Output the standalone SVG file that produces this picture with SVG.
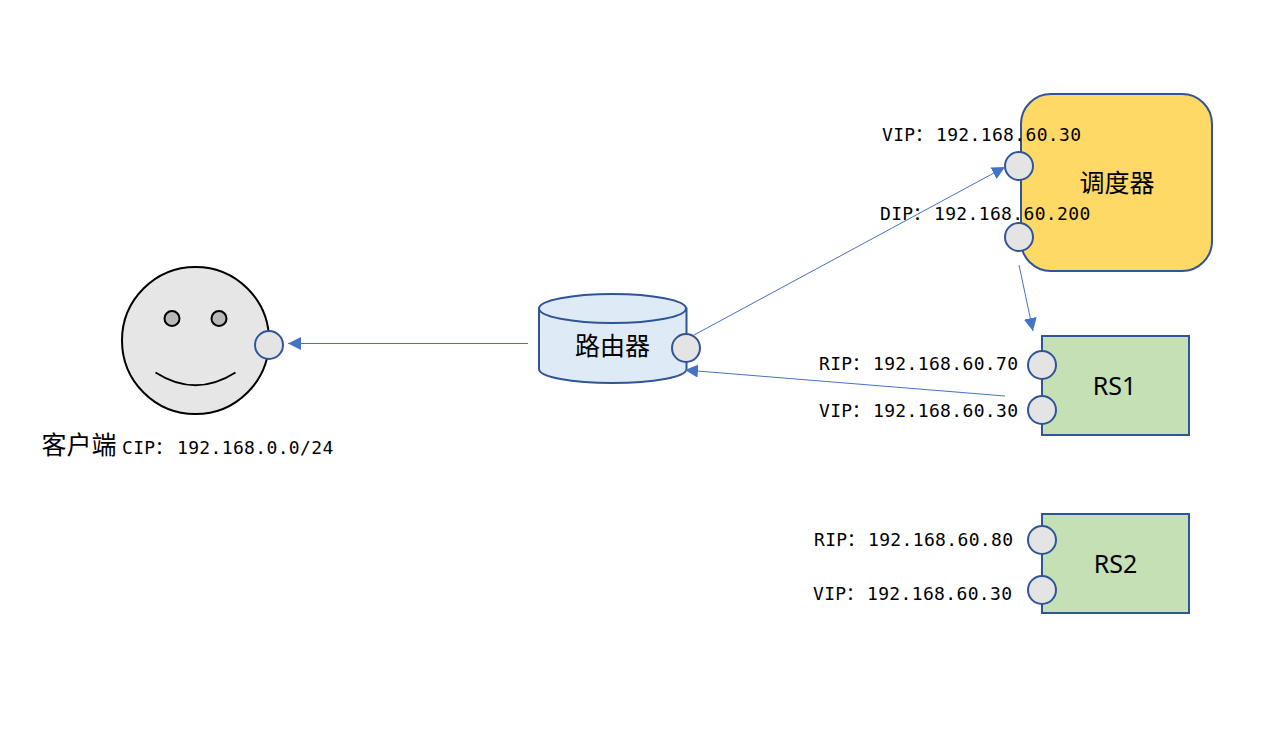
<svg xmlns="http://www.w3.org/2000/svg" width="1261" height="729" viewBox="0 0 1261 729">
<style>
.s{stroke:#2f5597;stroke-width:2}
.port{fill:#e4e4e4;stroke:#2f5597;stroke-width:2}
.ip{font-family:"DejaVu Sans Mono","Noto Sans CJK SC",monospace;font-size:18px;letter-spacing:.35px;fill:#000}
.lbl{font-family:"Noto Sans","Noto Sans CJK SC",sans-serif;font-size:25px;fill:#000;text-anchor:middle}
.c{stroke:#4472c4;stroke-width:1;fill:none;marker-end:url(#a)}
</style>
<defs><marker id="a" markerUnits="userSpaceOnUse" markerWidth="14" markerHeight="13" refX="13" refY="6.500" orient="auto"><path d="M0 0L13 6.500L0 13Z" fill="#4472c4"/></marker></defs>
<rect width="1261" height="729" fill="#fff"/>
<g id="client">
<circle cx="195.500" cy="340.500" r="73.500" fill="#e6e6e6" stroke="#000" stroke-width="2"/>
<circle cx="172" cy="318.500" r="7.500" fill="#b8b8b8" stroke="#000" stroke-width="2"/>
<circle cx="219" cy="318.500" r="7.500" fill="#b8b8b8" stroke="#000" stroke-width="2"/>
<path d="M155.500 372.500Q195.500 398 235.500 372.500" fill="none" stroke="#000" stroke-width="2"/>
<circle class="port" cx="269" cy="345" r="14"/>
<text x="79" y="454" class="lbl">客户端</text>
<text x="122" y="454" class="ip">CIP<tspan x="155">：</tspan><tspan x="177">192.168.0.0/24</tspan></text>
</g>
<g id="router">
<path d="M539 308.500V369C539 377 572 383 612.500 383S686.500 377 686.500 369V308.500Z" fill="#deeaf6" class="s"/>
<ellipse cx="612.500" cy="308.500" rx="73.500" ry="14.500" fill="#deeaf6" class="s"/>
<text x="612.500" y="355" class="lbl">路由器</text>
<circle class="port" cx="686" cy="348" r="14"/>
</g>
<g id="scheduler">
<rect x="1021" y="94" width="191" height="177" rx="30" ry="30" fill="#ffd966" class="s"/>
<text x="1117" y="192" class="lbl">调度器</text>
<circle class="port" cx="1019" cy="166" r="14"/>
<circle class="port" cx="1019" cy="237" r="14"/>
<text x="882" y="141" class="ip">VIP<tspan x="915">：</tspan><tspan x="936">192.168.60.30</tspan></text>
<text x="880" y="220" class="ip">DIP<tspan x="913">：</tspan><tspan x="934">192.168.60.200</tspan></text>
</g>
<g id="rs1">
<rect x="1042" y="336" width="147" height="99" fill="#c5e0b4" class="s"/>
<text x="1114.500" y="395" class="lbl">RS1</text>
<circle class="port" cx="1042" cy="365" r="14"/>
<circle class="port" cx="1042" cy="410" r="14"/>
<text x="819" y="370" class="ip">RIP<tspan x="852">：</tspan><tspan x="873">192.168.60.70</tspan></text>
<text x="819" y="417" class="ip">VIP<tspan x="852">：</tspan><tspan x="873">192.168.60.30</tspan></text>
</g>
<g id="rs2">
<rect x="1042" y="514" width="147" height="99" fill="#c5e0b4" class="s"/>
<text x="1115.500" y="573" class="lbl">RS2</text>
<circle class="port" cx="1042" cy="540" r="14"/>
<circle class="port" cx="1042" cy="590" r="14"/>
<text x="814" y="546" class="ip">RIP<tspan x="847">：</tspan><tspan x="868">192.168.60.80</tspan></text>
<text x="813" y="600" class="ip">VIP<tspan x="846">：</tspan><tspan x="867">192.168.60.30</tspan></text>
</g>
<g id="connectors">
<path class="c" d="M528 343.500H288"/>
<path class="c" d="M694 335L1005 167"/>
<path class="c" d="M1019 265L1033 331"/>
<path class="c" d="M1005 396L685 370"/>
</g>
</svg>
